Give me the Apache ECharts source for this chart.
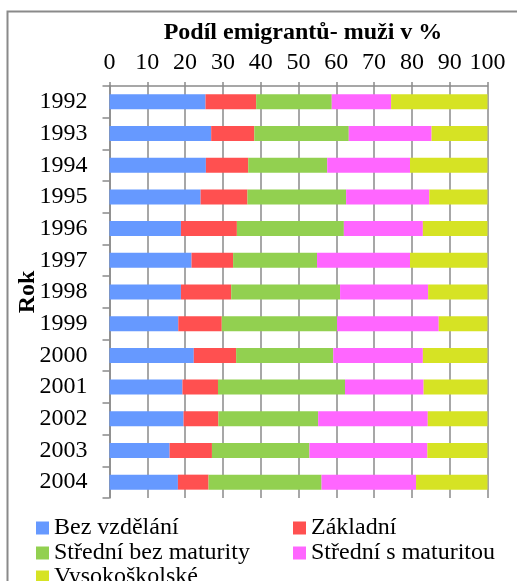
<!DOCTYPE html>
<html>
<head>
<meta charset="utf-8">
<script src="https://cdn.jsdelivr.net/npm/echarts@6/dist/echarts.min.js"></script>
<style>
  html, body { margin: 0; padding: 0; background: #fff; }
  #chart { width: 517px; height: 581px; }
</style>
</head>
<body>
<div id="chart"></div>
<script>
// data (share of emigrants, men, in %)
const years = ['1992', '1993', '1994', '1995', '1996', '1997', '1998',
               '1999', '2000', '2001', '2002', '2003', '2004'];
const bezVzdelani   = [25.4, 26.9, 25.5, 24.1, 18.9, 21.7, 18.9, 18.2, 22.3, 19.3, 19.6, 15.9, 18.1];
const zakladni      = [13.4, 11.4, 11.2, 12.4, 14.8, 11.0, 13.3, 11.5, 11.2,  9.4,  9.2, 11.2,  8.1];
const stredniBezMat = [20.0, 25.0, 20.9, 26.1, 28.3, 22.2, 28.8, 30.5, 25.7, 33.6, 26.4, 25.8, 29.9];
const stredniSMat   = [15.7, 21.9, 21.9, 22.0, 20.9, 24.6, 23.3, 26.9, 23.7, 20.8, 29.0, 31.2, 25.0];
const vysokoskolske = [25.5, 14.8, 20.5, 15.4, 17.1, 20.5, 15.7, 12.9, 17.1, 16.9, 15.8, 15.9, 18.9];
const xTicks = [0, 10, 20, 30, 40, 50, 60, 70, 80, 90, 100];

const seriesDefs = [
    { name: 'Bez vzdělání', data: bezVzdelani, color: '#6699ff' },
    { name: 'Základní', data: zakladni, color: '#ff5050' },
    { name: 'Střední bez maturity', data: stredniBezMat, color: '#92d050' },
    { name: 'Střední s maturitou', data: stredniSMat, color: '#ff66ff' },
    { name: 'Vysokoškolské', data: vysokoskolske, color: '#d6e324' },
];

const font = "'Liberation Serif', 'Times New Roman', serif";
const gray = '#8a8a8a';
const fontSize = 24;

// legend: two columns, three rows (last row clipped by the picture edge)
const legendSlots = [
    { name: 'Bez vzdělání', left: 36, top: 516 },
    { name: 'Základní', left: 293, top: 516 },
    { name: 'Střední bez maturity', left: 36, top: 541 },
    { name: 'Střední s maturitou', left: 293, top: 541 },
    { name: 'Vysokoškolské', left: 36, top: 565 },
];

const chart = echarts.init(document.getElementById('chart'));
chart.setOption({
    animation: false,
    title: {
        text: 'Podíl emigrantů- muži v %',
        left: 298,
        top: 16,
        textAlign: 'center',
        textStyle: {
            fontFamily: font,
            fontSize: fontSize,
            fontWeight: 'bold',
            color: '#000',
        },
    },
    graphic: [{
        type: 'rect',
        z: -10,
        shape: { x: 7.5, y: 11.5, width: 600, height: 700 },
        style: { fill: 'none', stroke: gray, lineWidth: 2 },
    }],
    legend: legendSlots.map((slot) => ({
        data: [slot.name],
        left: slot.left,
        top: slot.top,
        padding: 0,
        itemWidth: 13,
        itemHeight: 13,
        itemGap: 0,
        icon: 'rect',
        textStyle: {
            fontFamily: font,
            fontSize: fontSize,
            color: '#000',
            lineHeight: 24,
        },
    })),
    grid: {
        left: 109.5,
        right: 29.5,
        top: 86,
        bottom: 83,
        containLabel: false,
        outerBoundsMode: 'none',
    },
    xAxis: {
        type: 'value',
        position: 'top',
        min: xTicks[0],
        max: xTicks[xTicks.length - 1],
        interval: 10,
        axisLine: { show: true, lineStyle: { color: gray, width: 1.5 } },
        axisTick: { show: true, length: 4, lineStyle: { color: gray, width: 1.5 } },
        axisLabel: {
            margin: 11,
            fontFamily: font,
            fontSize: fontSize,
            color: '#000',
        },
        splitLine: { show: true, lineStyle: { color: gray, width: 1.5 } },
    },
    yAxis: {
        type: 'category',
        data: years,
        inverse: true,
        name: 'Rok',
        nameLocation: 'middle',
        nameGap: 70,
        nameMoveOverlap: false,
        nameTextStyle: {
            fontFamily: font,
            fontSize: fontSize,
            fontWeight: 'bold',
            color: '#000',
        },
        axisLine: { show: true, lineStyle: { color: gray, width: 1.5 } },
        axisTick: { show: true, length: 7, lineStyle: { color: gray, width: 1.5 } },
        axisLabel: {
            margin: 22,
            fontFamily: font,
            fontSize: fontSize,
            color: '#000',
        },
        splitLine: { show: false },
    },
    series: seriesDefs.map((s) => ({
        name: s.name,
        type: 'bar',
        stack: 'total',
        data: s.data,
        barWidth: 15,
        itemStyle: { color: s.color },
    })),
});
</script>
</body>
</html>
